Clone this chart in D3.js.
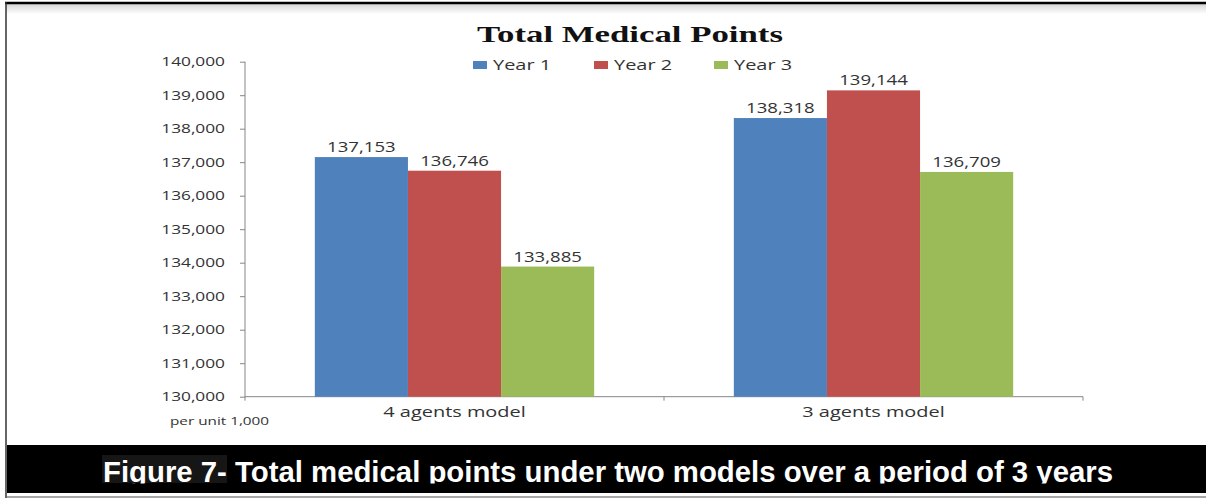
<!DOCTYPE html>
<html>
<head>
<meta charset="utf-8">
<script src="https://cdn.jsdelivr.net/npm/d3@7"></script>
<style>
  body { margin: 0; background: #fff; }
  svg { display: block; }
</style>
</head>
<body>
<div id="chart"></div>
<script>
const width = 1206;
const height = 499;

// data
const categories = ["4 agents model", "3 agents model"];
const series = ["Year 1", "Year 2", "Year 3"];
const year1 = [137153, 138318];
const year2 = [136746, 139144];
const year3 = [133885, 136709];
const yTicks = [130000, 131000, 132000, 133000, 134000, 135000, 136000, 137000, 138000, 139000, 140000];
const colors = ["#4f81bd", "#c0504d", "#9bbb59"];

const values = [year1, year2, year3];
const rows = categories.map((c, i) => ({
	cat: c,
	vals: series.map((s, j) => ({ key: s, value: values[j][i], color: colors[j] }))
}));

const plot = { left: 245, right: 1083, top: 61.7, bottom: 396.7 };
const sx = 1.33; // text in the source is stretched horizontally
const fmt = d3.format(",");

let svg = d3.select("#chart").append("svg")
	.attr("width", width)
	.attr("height", height);

// frame shadow under top border
let defs = svg.append("defs");
let grad = defs.append("linearGradient").attr("id", "shade")
	.attr("x1", 0).attr("y1", 0).attr("x2", 0).attr("y2", 1);
grad.append("stop").attr("offset", "0%").attr("stop-color", "#d5d5d5");
grad.append("stop").attr("offset", "100%").attr("stop-color", "#ffffff");
svg.append("rect").attr("x", 6).attr("y", 4).attr("width", width - 6).attr("height", 10)
	.attr("fill", "url(#shade)");

svg.append("line").attr("x1", 5).attr("x2", width).attr("y1", 3).attr("y2", 3)
	.attr("stroke", "#000").attr("stroke-width", 2.5);
svg.append("line").attr("x1", 6).attr("x2", 6).attr("y1", 2).attr("y2", 498)
	.attr("stroke", "#333").attr("stroke-width", 1.5);

// scales
let x0 = d3.scaleBand()
	.domain(categories)
	.range([plot.left, plot.right]);
let x1 = d3.scaleBand()
	.domain(series)
	.range([0, x0.bandwidth()])
	.paddingOuter(0.75);
let y = d3.scaleLinear()
	.domain([130000, 140000])
	.range([plot.bottom, plot.top]);

// y axis
let yAxis = d3.axisLeft(y).tickValues(yTicks).tickFormat(fmt).tickSize(5).tickSizeOuter(0);
let gy = svg.append("g")
	.attr("transform", "translate(" + plot.left + ",0)")
	.call(yAxis);
gy.select(".domain").attr("stroke", "#868686").attr("d", "M0," + plot.top + "V" + (plot.bottom + 4));
gy.selectAll(".tick line").attr("stroke", "#868686");
gy.selectAll(".tick text")
	.attr("x", -20 / sx)
	.attr("transform", "scale(" + sx + ",1)")
	.attr("fill", "#333")
	.style("font-family", "Open Sans")
	.style("font-size", "13px");

// x axis
let xAxis = d3.axisBottom(x0).tickSize(0).tickPadding(10);
let gx = svg.append("g")
	.attr("transform", "translate(0," + plot.bottom + ")")
	.call(xAxis);
gx.select(".domain").attr("stroke", "#868686").attr("d", "M" + plot.left + ",0H" + plot.right + "V4");
gx.selectAll(".tick text")
	.attr("transform", "scale(" + sx + ",1)")
	.attr("fill", "#333")
	.style("font-family", "Open Sans")
	.style("font-size", "15px");
// ticks between categories
gx.selectAll(".sep")
	.data(categories.slice(1))
	.enter().append("line")
	.attr("x1", d => x0(d)).attr("x2", d => x0(d))
	.attr("y1", 0).attr("y2", 4)
	.attr("stroke", "#868686");

// bars
let groups = svg.append("g").selectAll("g")
	.data(rows)
	.enter().append("g")
	.attr("transform", d => "translate(" + x0(d.cat) + ",0)");

groups.selectAll("rect")
	.data(d => d.vals)
	.enter().append("rect")
	.attr("x", d => x1(d.key))
	.attr("y", d => y(d.value))
	.attr("width", x1.bandwidth())
	.attr("height", d => plot.bottom - y(d.value))
	.attr("fill", d => d.color);

groups.selectAll("text")
	.data(d => d.vals)
	.enter().append("text")
	.attr("transform", d => "translate(" + (x1(d.key) + x1.bandwidth() / 2) + "," + (y(d.value) - 5) + ") scale(" + sx + ",1)")
	.attr("text-anchor", "middle")
	.attr("fill", "#333")
	.style("font-family", "Open Sans")
	.style("font-size", "14px")
	.text(d => fmt(d.value));

// title
svg.append("text")
	.attr("x", 630).attr("y", 42)
	.attr("text-anchor", "middle")
	.attr("textLength", 306)
	.attr("lengthAdjust", "spacingAndGlyphs")
	.style("font-family", "Liberation Serif")
	.style("font-weight", "bold")
	.style("font-size", "24px")
	.attr("fill", "#111")
	.text("Total Medical Points");

// legend
const legendX = [473, 594, 714];
let legend = svg.append("g").selectAll("g")
	.data(series)
	.enter().append("g")
	.attr("transform", (d, i) => "translate(" + legendX[i] + ",65)");
legend.append("rect")
	.attr("x", 0).attr("y", -4)
	.attr("width", 14).attr("height", 8)
	.attr("fill", (d, i) => colors[i]);
legend.append("text")
	.attr("transform", "translate(20,5) scale(" + sx + ",1)")
	.attr("fill", "#333")
	.style("font-family", "Open Sans")
	.style("font-size", "15px")
	.text(d => d);

// unit note
svg.append("text")
	.attr("transform", "translate(170,425) scale(" + sx + ",1)")
	.attr("fill", "#333")
	.style("font-family", "Open Sans")
	.style("font-size", "11.5px")
	.text("per unit 1,000");

// caption band
svg.append("rect").attr("x", 7).attr("y", 445).attr("width", width - 7).attr("height", 48)
	.attr("fill", "#000");
svg.append("rect").attr("x", 102).attr("y", 455).attr("width", 125).attr("height", 28)
	.attr("fill", "#161616");
defs.append("clipPath").attr("id", "capclip")
	.append("rect").attr("x", 0).attr("y", 445).attr("width", width).attr("height", 38.5);
svg.append("text")
	.attr("clip-path", "url(#capclip)")
	.attr("x", 103).attr("y", 482)
	.attr("textLength", 1010)
	.attr("lengthAdjust", "spacingAndGlyphs")
	.attr("fill", "#fff")
	.style("font-family", "Liberation Sans")
	.style("font-weight", "bold")
	.style("font-size", "29px")
	.text("Figure 7- Total medical points under two models over a period of 3 years");

svg.append("line").attr("x1", 7).attr("x2", width).attr("y1", 497).attr("y2", 497)
	.attr("stroke", "#8a8a8a").attr("stroke-width", 1.5);
</script>
</body>
</html>
